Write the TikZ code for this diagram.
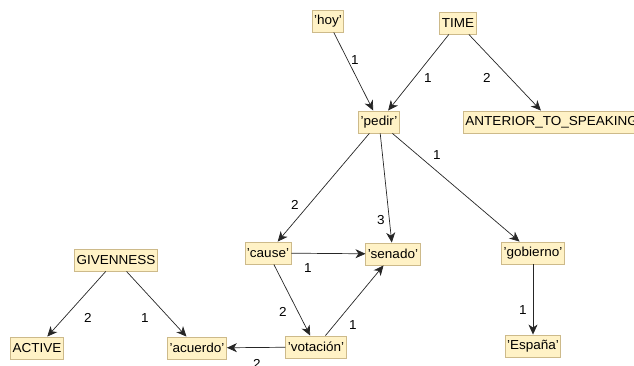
\documentclass[tikz,border=0pt]{standalone}
\usepackage{fontspec}
\setmainfont{Liberation Sans}[FakeStretch=1.04]
\usetikzlibrary{arrows.meta}
\definecolor{boxfill}{HTML}{FFF2C6}
\definecolor{boxline}{HTML}{CDBA8A}
\begin{document}
\begin{tikzpicture}[x=1pt,y=-1pt,
  concept/.style={draw=boxline,fill=boxfill,line width=0.9pt,inner xsep=2pt,inner ysep=0pt,minimum height=22pt,font=\fontsize{13}{15}\selectfont},
  lab/.style={inner sep=0pt,font=\fontsize{13}{15}\selectfont},
  arr/.style={draw=black!85,line width=0.7pt,-{Stealth[length=10pt,width=9pt,inset=3pt]}}]
\useasboundingbox (0,0) rectangle (634,365);
\node[concept] (hoy) at (328,21) {'hoy'};
\node[concept] (time) at (458,23) {TIME};
\node[concept] (pedir) at (379,122) {'pedir'};
\node[concept,anchor=west] (ant) at (463,122) {ANTERIOR\_TO\_SPEAKING};
\node[concept] (cause) at (268,253) {'cause'};
\node[concept] (senado) at (393,254) {'senado'};
\node[concept] (gobierno) at (533,253) {'gobierno'};
\node[concept] (givenness) at (116,260) {GIVENNESS};
\node[concept] (active) at (37,348) {ACTIVE};
\node[concept] (acuerdo) at (197,348) {'acuerdo'};
\node[concept] (votacion) at (316,347) {'votación'};
\node[concept] (espana) at (533,346) {'España'};

\draw[arr] (hoy) -- (pedir);
\draw[arr] (time) -- (pedir);
\draw[arr] (time) -- (ant);
\draw[arr] (pedir) -- (cause);
\draw[arr] (pedir) -- (senado);
\draw[arr] (pedir) -- (gobierno);
\draw[arr] (cause) -- (senado);
\draw[arr] (cause) -- (votacion);
\draw[arr] (votacion) -- (senado);
\draw[arr] (votacion) -- (acuerdo);
\draw[arr] (givenness) -- (active);
\draw[arr] (givenness) -- (acuerdo);
\draw[arr] (gobierno) -- (espana);

\node[lab] (l1) at (355,60) {1};
\node[lab] (l2) at (428,78) {1};
\node[lab] (l3) at (487,78) {2};
\node[lab] (l4) at (295,205) {2};
\node[lab] (l5) at (381,220) {3};
\node[lab] (l6) at (437,155) {1};
\node[lab] (l7) at (308,268) {1};
\node[lab] (l8) at (283,312) {2};
\node[lab] (l9) at (353,325) {1};
\node[lab] (l10) at (257,364) {2};
\node[lab] (l11) at (88,318) {2};
\node[lab] (l12) at (145,318) {1};
\node[lab] (l13) at (523,310) {1};
\end{tikzpicture}
\end{document}
